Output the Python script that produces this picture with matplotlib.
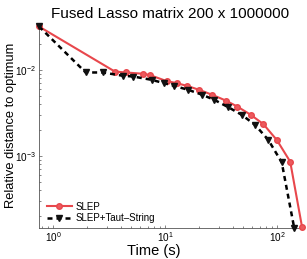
import matplotlib
matplotlib.use("Agg")
import matplotlib.pyplot as plt
from matplotlib.ticker import LogLocator, NullFormatter

plt.rcParams['font.family'] = ['Liberation Sans', 'DejaVu Sans']

slep_t = [0.746, 3.55, 4.46, 6.37, 7.31, 10.3, 12.7, 15.6, 20.2, 26.4, 34.8,
          44.2, 58.3, 75.5, 99.6, 131, 167]
slep_d = [0.0318, 0.00955, 0.00931, 0.00899, 0.00868, 0.0074, 0.0070, 0.00652,
          0.00585, 0.00512, 0.0044, 0.00374, 0.0030, 0.00234, 0.00153, 0.00086,
          0.000151]

taut_t = [0.746, 1.95, 2.76, 4.22, 5.18, 7.57, 9.76, 12.0, 16.1, 21.2, 27.5,
          36.7, 48.4, 63.7, 83.7, 110, 142]
taut_d = [0.0318, 0.00931, 0.00931, 0.00852, 0.00836, 0.00765, 0.0070, 0.00652,
          0.00585, 0.00516, 0.00448, 0.00368, 0.0030, 0.00229, 0.00153, 0.000845,
          0.000148]

title = "Fused Lasso matrix 200 x 1000000"
xlabel = "Time (s)"
ylabel = "Relative distance to optimum"
labels = ["SLEP", "SLEP+Taut\u2013String"]

fig = plt.figure(figsize=(3.07, 2.59), dpi=100)
ax = fig.add_axes([0.127, 0.1216, 0.8567, 0.7761])

red = '#e8474c'
ax.plot(slep_t, slep_d, '-', color=red, lw=1.5, marker='o', ms=4,
        mfc='#ec5a5e', mec=red, label=labels[0], clip_on=False, zorder=3)
ax.plot(taut_t, taut_d, color='black', lw=1.8, ls=(0, (2.0, 1.6)), marker='v',
        ms=5, mfc='#111111', mec='#111111', label=labels[1], clip_on=False,
        zorder=4)

ax.set_xscale('log')
ax.set_yscale('log')
ax.set_xlim(slep_t[0], slep_t[-1])
ax.set_ylim(min(taut_d + slep_d), slep_d[0])

for s in ['top', 'right']:
    ax.spines[s].set_visible(False)
for s in ['left', 'bottom']:
    ax.spines[s].set_color('#555555')
    ax.spines[s].set_linewidth(0.6)

ax.tick_params(which='major', direction='in', length=2.5, width=0.5,
               colors='#555555', labelcolor='black', labelsize=7.2, pad=2)
ax.tick_params(which='minor', direction='in', length=1.5, width=0.5,
               colors='#555555')
ax.xaxis.set_minor_locator(LogLocator(base=10, subs=range(2, 10), numticks=20))
ax.yaxis.set_minor_locator(LogLocator(base=10, subs=range(2, 10), numticks=20))
ax.xaxis.set_minor_formatter(NullFormatter())
ax.yaxis.set_minor_formatter(NullFormatter())

ax.set_title(title, fontsize=11, pad=6)
ax.set_xlabel(xlabel, fontsize=10.5)
ax.xaxis.label.set_va('center')
ax.xaxis.set_label_coords(0.435, -0.115)
ax.set_ylabel(ylabel, fontsize=9.3)
ax.yaxis.label.set_va('center')
ax.yaxis.set_label_coords(-0.108, 0.51)

leg = ax.legend(loc='lower left', bbox_to_anchor=(0.029, 0.02), frameon=False,
                fontsize=7, handlelength=2.6, handletextpad=0.35,
                labelspacing=0.2, borderpad=0, borderaxespad=0)

fig.savefig('out.png', dpi=100)
